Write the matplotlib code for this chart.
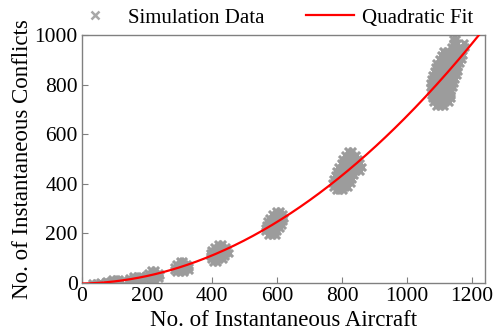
import matplotlib
matplotlib.use("Agg")
import matplotlib.pyplot as plt
from matplotlib.lines import Line2D
import numpy as np

# simulation runs, grouped by traffic level (instantaneous aircraft vs conflicts)
aircraft_low = [30, 42, 55, 92, 104, 114, 74, 86, 98, 110, 120, 80, 92, 104]
conflicts_low = [1, 2, 3, 16, 16, 16, 9, 9, 9, 9, 9, 3, 3, 3]

aircraft_160 = [156, 168, 178, 144, 156, 168, 180, 188, 140, 152, 164, 176, 186]
conflicts_160 = [30, 30, 30, 22, 22, 22, 22, 22, 14, 14, 14, 14, 14]

aircraft_215 = [212, 224, 202, 214, 226, 236, 196, 208, 220, 232, 240,
                200, 212, 224, 236, 210, 222]
conflicts_215 = [52, 52, 42, 42, 42, 42, 32, 32, 32, 32, 32,
                 22, 22, 22, 22, 14, 14]

aircraft_305 = [300, 312, 290, 302, 314, 324, 284, 296, 308, 320, 330,
                282, 294, 306, 318, 328, 290, 302, 314]
conflicts_305 = [88, 88, 78, 78, 78, 78, 66, 66, 66, 66, 66,
                 54, 54, 54, 54, 54, 44, 44, 44]

aircraft_420 = [418, 430, 406, 418, 430, 442, 398, 410, 422, 434, 446,
                394, 406, 418, 430, 442, 452, 394, 406, 418, 430, 440,
                398, 410, 422, 434, 404, 416]
conflicts_420 = [156, 156, 144, 144, 144, 144, 132, 132, 132, 132, 132,
                 120, 120, 120, 120, 120, 120, 108, 108, 108, 108, 108,
                 96, 96, 96, 96, 86, 86]

aircraft_590 = [596, 608, 584, 596, 608, 618, 576, 588, 600, 612, 622,
                570, 582, 594, 606, 618, 566, 578, 590, 602, 614,
                562, 574, 586, 598, 610, 564, 576, 588, 600, 572, 584, 596]
conflicts_590 = [292, 292, 278, 278, 278, 278, 264, 264, 264, 264, 264,
                 250, 250, 250, 250, 250, 236, 236, 236, 236, 236,
                 222, 222, 222, 222, 222, 208, 208, 208, 208, 194, 194, 194]

aircraft_810 = [818, 830, 808, 820, 832, 842, 800, 812, 824, 836, 848,
                796, 808, 820, 832, 844, 854, 788, 800, 812, 824, 836, 848, 860,
                782, 794, 806, 818, 830, 842, 856, 778, 790, 802, 814, 826, 838,
                772, 784, 796, 808, 820, 832, 768, 780, 792, 804, 816, 826,
                772, 784, 796, 808, 818, 780, 792, 804]
conflicts_810 = [532, 532, 516, 516, 516, 516, 500, 500, 500, 500, 500,
                 484, 484, 484, 484, 484, 484, 468, 468, 468, 468, 468, 468, 468,
                 452, 452, 452, 452, 452, 452, 452, 436, 436, 436, 436, 436, 436,
                 420, 420, 420, 420, 420, 420, 404, 404, 404, 404, 404, 404,
                 388, 388, 388, 388, 388, 376, 376, 376]

aircraft_1120 = [1142, 1150, 1140, 1152, 1176, 1136, 1148, 1162, 1178,
                 1110, 1122, 1134, 1146, 1158, 1170,
                 1104, 1116, 1128, 1140, 1152, 1164, 1172,
                 1098, 1110, 1122, 1134, 1146, 1158, 1168,
                 1090, 1102, 1114, 1126, 1138, 1150, 1162,
                 1086, 1098, 1110, 1122, 1134, 1146, 1158,
                 1082, 1094, 1106, 1118, 1130, 1142, 1156,
                 1078, 1090, 1102, 1114, 1126, 1138, 1152,
                 1074, 1086, 1098, 1110, 1122, 1134, 1148,
                 1072, 1084, 1096, 1108, 1120, 1132, 1144,
                 1072, 1084, 1096, 1108, 1120, 1132, 1142,
                 1074, 1086, 1098, 1110, 1122, 1134,
                 1074, 1086, 1098, 1110, 1122, 1134,
                 1076, 1088, 1100, 1112, 1124, 1136,
                 1080, 1092, 1104, 1116, 1128,
                 1090, 1102, 1114]
conflicts_1120 = [984, 984, 968, 968, 968, 952, 952, 952, 952,
                  936, 936, 936, 936, 936, 936,
                  920, 920, 920, 920, 920, 920, 920,
                  904, 904, 904, 904, 904, 904, 904,
                  888, 888, 888, 888, 888, 888, 888,
                  872, 872, 872, 872, 872, 872, 872,
                  856, 856, 856, 856, 856, 856, 856,
                  840, 840, 840, 840, 840, 840, 840,
                  824, 824, 824, 824, 824, 824, 824,
                  808, 808, 808, 808, 808, 808, 808,
                  792, 792, 792, 792, 792, 792, 792,
                  776, 776, 776, 776, 776, 776,
                  760, 760, 760, 760, 760, 760,
                  744, 744, 744, 744, 744, 744,
                  728, 728, 728, 728, 728,
                  714, 714, 714]

aircraft = np.array(aircraft_low + aircraft_160 + aircraft_215 + aircraft_305 +
                    aircraft_420 + aircraft_590 + aircraft_810 + aircraft_1120)
conflicts = np.array(conflicts_low + conflicts_160 + conflicts_215 + conflicts_305 +
                     conflicts_420 + conflicts_590 + conflicts_810 + conflicts_1120)

# quadratic least squares fit through the simulation points
coef = np.polyfit(aircraft, conflicts, 2)
x_fit = np.linspace(0, 1240, 300)
y_fit = np.polyval(coef, x_fit)

plt.rcParams["font.family"] = ["Liberation Serif", "DejaVu Serif"]
plt.rcParams["font.size"] = 15.5

fig = plt.figure(figsize=(4.94, 3.33), dpi=100)
ax = fig.add_axes([0.166, 0.150, 0.816, 0.745])

ax.scatter(aircraft, conflicts, marker="x", s=26, linewidths=2.2,
           color="#9c9c9c", zorder=2)
ax.plot(x_fit, y_fit, color="red", linewidth=1.6, zorder=3)

ax.set_xlim(0, 1240)
ax.set_ylim(0, 1000)
ax.set_xticks([0, 200, 400, 600, 800, 1000, 1200])
ax.set_yticks([0, 200, 400, 600, 800, 1000])
ax.set_xlabel("No. of Instantaneous Aircraft", fontsize=16.5, labelpad=3)
ax.set_ylabel("No. of Instantaneous Conflicts", fontsize=16.5, labelpad=1.5)

for s in ax.spines.values():
    s.set_color("#808080")
    s.set_linewidth(1.0)
ax.tick_params(direction="in", length=4, color="#808080", pad=3,
               top=False, right=False)

# legend handles: small cross for the data, red line for the fit
handles = [
    Line2D([], [], marker="x", linestyle="none", color="#a8a8a8",
           markersize=6, markeredgewidth=1.8, label="Simulation Data"),
    Line2D([], [], color="red", linewidth=1.6, label="Quadratic Fit"),
]
ax.legend(handles=handles, loc="lower center", bbox_to_anchor=(0.472, 1.03), ncol=2,
          frameon=False, handlelength=2.3, handletextpad=0.4, columnspacing=2.0,
          borderaxespad=0.0, borderpad=0.0, fontsize=15)

fig.savefig("out.png", dpi=100)
